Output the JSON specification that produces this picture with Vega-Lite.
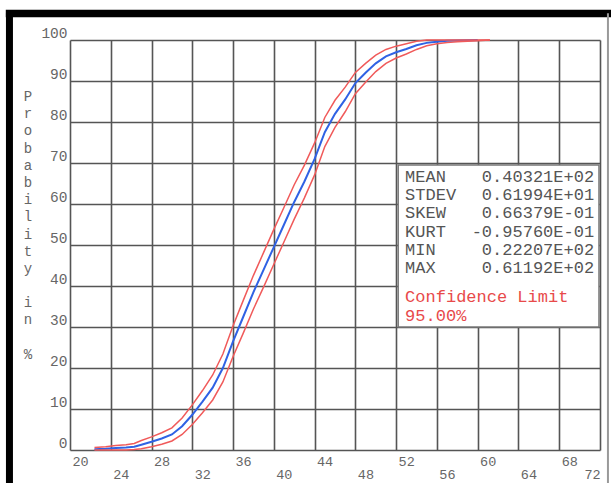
{
  "$schema": "https://vega.github.io/schema/vega-lite/v6.json",
  "width": 530,
  "height": 410,
  "autosize": {"type": "none"},
  "padding": {"left": 70, "top": 40, "right": 11, "bottom": 33},
  "background": "white",
  "config": {"view": {"stroke": null}, "font": "Liberation Mono"},
  "datasets": {
    "curve": [
      {"x": 22.4, "cdf": 0.2, "hi": 0.6, "lo": 0},
      {"x": 23.5, "cdf": 0.3, "hi": 0.8, "lo": 0},
      {"x": 24.5, "cdf": 0.5, "hi": 1.1, "lo": 0},
      {"x": 25.5, "cdf": 0.6, "hi": 1.3, "lo": 0},
      {"x": 26.3, "cdf": 0.8, "hi": 1.6, "lo": 0.1},
      {"x": 27, "cdf": 1.3, "hi": 2.3, "lo": 0.3},
      {"x": 28, "cdf": 2.0, "hi": 3.2, "lo": 0.8},
      {"x": 29, "cdf": 2.8, "hi": 4.2, "lo": 1.4},
      {"x": 30, "cdf": 3.8, "hi": 5.4, "lo": 2.2},
      {"x": 31, "cdf": 5.8, "hi": 7.8, "lo": 3.8},
      {"x": 32, "cdf": 8.6, "hi": 11.0, "lo": 6.2},
      {"x": 33, "cdf": 11.8, "hi": 14.5, "lo": 9.1},
      {"x": 34, "cdf": 15.2, "hi": 18.3, "lo": 12.2},
      {"x": 35, "cdf": 20.0, "hi": 23.4, "lo": 16.6},
      {"x": 36, "cdf": 26.5, "hi": 30.3, "lo": 22.8},
      {"x": 37, "cdf": 32.5, "hi": 36.5, "lo": 28.5},
      {"x": 38, "cdf": 38.5, "hi": 42.6, "lo": 34.4},
      {"x": 39, "cdf": 44.0, "hi": 48.2, "lo": 39.8},
      {"x": 40, "cdf": 49.5, "hi": 53.8, "lo": 45.3},
      {"x": 41, "cdf": 55.0, "hi": 59.2, "lo": 50.8},
      {"x": 42, "cdf": 60.5, "hi": 64.7, "lo": 56.3},
      {"x": 43, "cdf": 65.5, "hi": 69.5, "lo": 61.5},
      {"x": 44, "cdf": 71.0, "hi": 74.9, "lo": 67.1},
      {"x": 45, "cdf": 77.5, "hi": 81.1, "lo": 74.0},
      {"x": 46, "cdf": 82.0, "hi": 85.3, "lo": 78.7},
      {"x": 47, "cdf": 85.5, "hi": 88.5, "lo": 82.5},
      {"x": 48, "cdf": 89.5, "hi": 92.1, "lo": 86.9},
      {"x": 49, "cdf": 92.0, "hi": 94.3, "lo": 89.7},
      {"x": 50, "cdf": 94.3, "hi": 96.3, "lo": 92.3},
      {"x": 51, "cdf": 96.0, "hi": 97.7, "lo": 94.3},
      {"x": 52, "cdf": 97.0, "hi": 98.5, "lo": 95.6},
      {"x": 53, "cdf": 97.8, "hi": 99.1, "lo": 96.6},
      {"x": 54, "cdf": 98.7, "hi": 99.7, "lo": 97.7},
      {"x": 55, "cdf": 99.3, "hi": 100, "lo": 98.6},
      {"x": 56, "cdf": 99.6, "hi": 100, "lo": 99.1},
      {"x": 57, "cdf": 99.8, "hi": 100, "lo": 99.4},
      {"x": 58, "cdf": 99.9, "hi": 100, "lo": 99.6},
      {"x": 60, "cdf": 100, "hi": 100, "lo": 99.8},
      {"x": 61.2, "hi": 100, "lo": 100}
    ],
    "stats": [
      {"labels": ["MEAN", "STDEV", "SKEW", "KURT", "MIN", "MAX"],
       "values": ["0.40321E+02", "0.61994E+01", "0.66379E-01", "-0.95760E-01", "0.22207E+02", "0.61192E+02"]}
    ]
  },
  "layer": [
    {
      "data": {"name": "curve"},
      "mark": {"type": "line", "color": "#2f62e4", "strokeWidth": 2},
      "encoding": {
        "x": {
          "field": "x", "type": "quantitative",
          "scale": {"domain": [20, 72], "nice": false, "zero": false},
          "axis": {
            "orient": "bottom",
            "values": [20, 24, 28, 32, 36, 40, 44, 48, 52, 56, 60, 64, 68, 72],
            "grid": true, "gridColor": "#555", "gridWidth": 1.6, "gridOpacity": 1,
            "domain": false, "ticks": false,
            "labelFlush": false, "labelOverlap": false,
            "labelPadding": {"condition": {"test": "datum.value % 8 == 0", "value": 17}, "value": 4},
            "labelOffset": {"condition": {"test": "datum.value == 72", "value": -8}, "value": 10},
            "labelBaseline": "top",
            "labelFont": "Liberation Mono", "labelFontSize": 13.5, "labelColor": "#666",
            "title": null
          }
        },
        "y": {
          "field": "cdf", "type": "quantitative",
          "scale": {"domain": [0, 100], "nice": false, "zero": false},
          "axis": {
            "orient": "left",
            "values": [0, 10, 20, 30, 40, 50, 60, 70, 80, 90, 100],
            "grid": true, "gridColor": "#555", "gridWidth": 1.6, "gridOpacity": 1,
            "domain": false, "ticks": false,
            "labelFlush": false, "labelOverlap": false,
            "labelPadding": 3, "labelBaseline": "bottom",
            "labelFont": "Liberation Mono", "labelFontSize": 14.5, "labelColor": "#666",
            "title": null
          }
        }
      }
    },
    {
      "data": {"name": "curve"},
      "mark": {"type": "line", "color": "#f05a5a", "strokeWidth": 1.5},
      "encoding": {
        "x": {"field": "x", "type": "quantitative"},
        "y": {"field": "hi", "type": "quantitative"}
      }
    },
    {
      "data": {"name": "curve"},
      "mark": {"type": "line", "color": "#f05a5a", "strokeWidth": 1.5},
      "encoding": {
        "x": {"field": "x", "type": "quantitative"},
        "y": {"field": "lo", "type": "quantitative"}
      }
    },
    {
      "data": {"values": [{}]},
      "mark": {"type": "rect", "fill": "white", "stroke": "#777", "strokeWidth": 1.5},
      "encoding": {
        "x": {"datum": 52.2, "type": "quantitative"},
        "x2": {"datum": 71.9},
        "y": {"datum": 69.5, "type": "quantitative"},
        "y2": {"datum": 30}
      }
    },
    {
      "data": {"values": [{}]},
      "mark": {"type": "text", "text": ["Confidence Limit", "95.00%"], "align": "left", "baseline": "middle",
               "lineHeight": 19, "font": "Liberation Mono", "fontSize": 17, "color": "#e84a4a"},
      "encoding": {
        "x": {"datum": 52.88, "type": "quantitative"},
        "y": {"datum": 37.3, "type": "quantitative"}
      }
    },
    {
      "data": {"values": [{}]},
      "mark": {"type": "text", "text": ["P", "r", "o", "b", "a", "b", "i", "l", "i", "t", "y"],
               "align": "center", "baseline": "middle", "lineHeight": 17.2,
               "font": "Liberation Mono", "fontSize": 14, "color": "#666"},
      "encoding": {
        "x": {"datum": 15.88, "type": "quantitative"},
        "y": {"datum": 86.1, "type": "quantitative"}
      }
    },
    {
      "data": {"values": [{}]},
      "mark": {"type": "text", "text": ["i", "n"],
               "align": "center", "baseline": "middle", "lineHeight": 17.2,
               "font": "Liberation Mono", "fontSize": 14, "color": "#666"},
      "encoding": {
        "x": {"datum": 15.88, "type": "quantitative"},
        "y": {"datum": 35.85, "type": "quantitative"}
      }
    },
    {
      "data": {"values": [{}]},
      "mark": {"type": "text", "text": "%",
               "align": "center", "baseline": "middle",
               "font": "Liberation Mono", "fontSize": 14, "color": "#666"},
      "encoding": {
        "x": {"datum": 15.88, "type": "quantitative"},
        "y": {"datum": 23.2, "type": "quantitative"}
      }
    },
    {
      "data": {"name": "stats"},
      "mark": {"type": "text", "align": "left", "baseline": "middle", "lineHeight": 18.2, "font": "Liberation Mono", "fontSize": 17, "color": "#555"},
      "encoding": {
        "x": {"datum": 52.88, "type": "quantitative"},
        "y": {"datum": 66.6, "type": "quantitative"},
        "text": {"field": "labels"}
      }
    },
    {
      "data": {"name": "stats"},
      "mark": {"type": "text", "align": "right", "baseline": "middle", "lineHeight": 18.2, "font": "Liberation Mono", "fontSize": 17, "color": "#555"},
      "encoding": {
        "x": {"datum": 71.42, "type": "quantitative"},
        "y": {"datum": 66.6, "type": "quantitative"},
        "text": {"field": "values"}
      }
    },
    {
      "data": {"values": [{}]},
      "mark": {"type": "rule", "color": "#000", "strokeWidth": 7},
      "encoding": {
        "x": {"datum": 14.06, "type": "quantitative"},
        "y": {"datum": 106.5, "type": "quantitative"},
        "y2": {"datum": -10}
      }
    },
    {
      "data": {"values": [{}]},
      "mark": {"type": "rule", "color": "#000", "strokeWidth": 7.5},
      "encoding": {
        "x": {"datum": 13.7, "type": "quantitative"},
        "x2": {"datum": 73.3},
        "y": {"datum": 106.45, "type": "quantitative"}
      }
    },
    {
      "data": {"values": [{}]},
      "mark": {"type": "rule", "color": "#999", "strokeWidth": 2},
      "encoding": {
        "x": {"datum": 72.78, "type": "quantitative"},
        "y": {"datum": 106.5, "type": "quantitative"},
        "y2": {"datum": -10}
      }
    }
  ]
}
